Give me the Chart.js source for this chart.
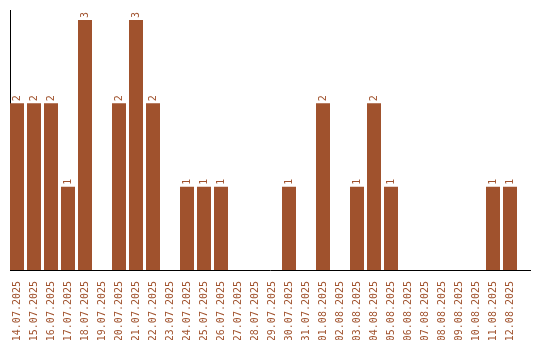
<!DOCTYPE html>
<html>
<head>
<meta charset="utf-8">
<script src="https://cdn.jsdelivr.net/npm/chart.js@4"></script>
<style>
  html, body { margin: 0; padding: 0; background: #fff; }
</style>
</head>
<body>
<canvas id="chart" width="540" height="340"></canvas>
<script>
const dates = [
  '14.07.2025', '15.07.2025', '16.07.2025', '17.07.2025', '18.07.2025',
  '19.07.2025', '20.07.2025', '21.07.2025', '22.07.2025', '23.07.2025',
  '24.07.2025', '25.07.2025', '26.07.2025', '27.07.2025', '28.07.2025',
  '29.07.2025', '30.07.2025', '31.07.2025', '01.08.2025', '02.08.2025',
  '03.08.2025', '04.08.2025', '05.08.2025', '06.08.2025', '07.08.2025',
  '08.08.2025', '09.08.2025', '10.08.2025', '11.08.2025', '12.08.2025'
];
const counts = [
  2, 2, 2, 1, 3,
  0, 2, 3, 2, 0,
  1, 1, 1, 0, 0,
  0, 1, 0, 2, 0,
  1, 2, 1, 0, 0,
  0, 0, 0, 1, 1
];

const barColor = '#a0522d';
const monoFont = { family: 'DejaVu Sans Mono', size: 10 };

// подписи значений над столбцами (повернутые)
const valueLabels = {
  id: 'valueLabels',
  afterDatasetsDraw(chart) {
    const ctx = chart.ctx;
    const meta = chart.getDatasetMeta(0);
    ctx.save();
    ctx.fillStyle = barColor;
    ctx.font = '10px "DejaVu Sans Mono"';
    ctx.textAlign = 'left';
    ctx.textBaseline = 'middle';
    meta.data.forEach((bar, i) => {
      const v = counts[i];
      if (!v) return;
      ctx.save();
      ctx.translate(bar.x, bar.y - 2);
      ctx.rotate(-Math.PI / 2);
      ctx.fillText(String(v), 0, 0);
      ctx.restore();
    });
    ctx.restore();
  }
};

// столбцы прижаты к левому краю оси, справа остается запас
const xMin = -7 / 17;
const xMax = 520 / 17 + xMin;

const ctx = document.getElementById('chart').getContext('2d');
new Chart(ctx, {
  type: 'bar',
  data: {
    datasets: [{
      data: counts.map((v, i) => ({ x: i, y: v })),
      backgroundColor: barColor,
      borderWidth: 0,
      barPercentage: 14 / 17,
      categoryPercentage: 1.0
    }]
  },
  options: {
    responsive: false,
    animation: false,
    layout: { padding: { left: 10, right: 10, top: 10, bottom: 0 } },
    plugins: {
      legend: { display: false },
      tooltip: { enabled: false }
    },
    scales: {
      x: {
        type: 'linear',
        offset: false,
        min: xMin,
        max: xMax,
        grid: { display: false },
        border: { display: true, color: '#000', width: 1 },
        afterFit: (scale) => {
          scale.height = 70;
          scale.paddingLeft = 0;
          scale.paddingRight = 0;
        },
        ticks: {
          stepSize: 1,
          includeBounds: false,
          color: barColor,
          font: monoFont,
          minRotation: 90,
          maxRotation: 90,
          autoSkip: false,
          padding: 3,
          callback: (v) => Number.isInteger(v) && dates[v] ? dates[v] : ''
        }
      },
      y: {
        beginAtZero: true,
        max: 3.12,
        grid: { display: false },
        border: { display: true, color: '#000', width: 1 },
        afterFit: (scale) => { scale.width = 0; },
        ticks: { display: false }
      }
    }
  },
  plugins: [valueLabels]
});
</script>
</body>
</html>
